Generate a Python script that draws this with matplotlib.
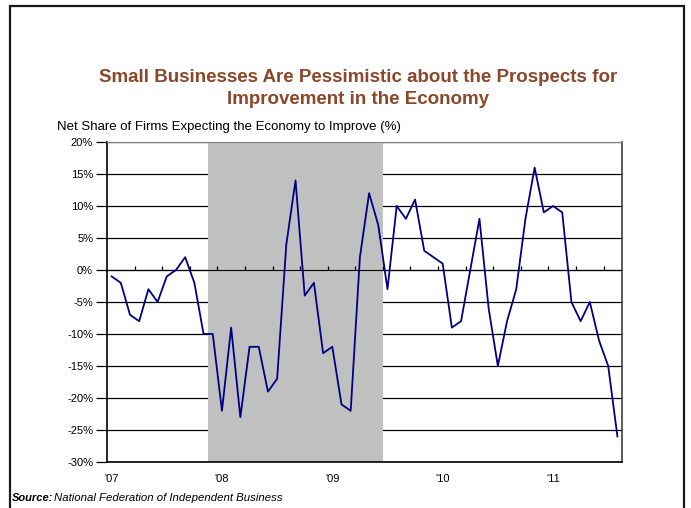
#!/usr/bin/env python3
# -*- coding: utf-8 -*-

import matplotlib
matplotlib.use('Agg')
import matplotlib.pyplot as plt
import matplotlib.patches as patches
import numpy as np

plt.rcParams['font.family'] = ['Liberation Sans', 'DejaVu Sans']

# Net share of firms expecting the economy to improve, monthly Jan 2007 - Aug 2011
net_share = [-1, -2, -7, -8, -3, -5, -1, 0, 2, -2, -10, -10,     # 2007
             -22, -9, -23, -12, -12, -19, -17, 4, 14, -4, -2, -13,  # 2008
             -12, -21, -22, 2, 12, 7, -3, 10, 8, 11, 3, 2,       # 2009
             1, -9, -8, 0, 8, -6, -15, -8, -3, 8, 16, 9,         # 2010
             10, 9, -5, -8, -5, -11, -15, -26]                   # 2011
year_labels = ["'07", "'08", "'09", "'10", "'11"]
year_starts = [0, 12, 24, 36, 48]
recession = (10.5, 29.5)   # Dec 2007 - Jun 2009
y_ticks = [20, 15, 10, 5, 0, -5, -10, -15, -20, -25, -30]

W, H = 691, 508
fig = plt.figure(figsize=(W / 100, H / 100), dpi=100)
ax = fig.add_axes([107 / W, 1 - 462 / H, (622 - 107) / W, (462 - 142) / H])

months = np.arange(len(net_share))

# gridlines under the recession band
for v in y_ticks:
    ax.axhline(v, color='black', lw=0.9, zorder=0.5)
ax.axvspan(recession[0], recession[1], color='#c0c0c0', lw=0, zorder=1)

ax.plot(months, net_share, color='#000080', lw=1.3, zorder=5)

ax.set_xlim(-0.5, len(net_share) - 0.5)
ax.set_ylim(-30, 20)
ax.set_yticks(y_ticks)
ax.set_yticklabels(['%d%%' % v for v in y_ticks], fontsize=8)
ax.tick_params(axis='y', direction='out', length=8, width=0.9, pad=2)

ax.set_xticks(year_starts)
ax.set_xticklabels(year_labels, fontsize=8)
ax.tick_params(axis='x', length=0, pad=9)

for side in ['left', 'bottom']:
    ax.spines[side].set_color('black')
    ax.spines[side].set_linewidth(1.2)
ax.spines['top'].set_color('#808080')
ax.spines['right'].set_color('#404040')
ax.spines['right'].set_linewidth(1.2)
for s in ax.spines.values():
    s.set_zorder(6)

# horizontal axis crossing at zero, quarterly tick marks
zero_ax = ax.secondary_xaxis(0.6)
zero_ax.set_xticks(np.arange(2.5, len(net_share), 3))
zero_ax.tick_params(axis='x', direction='out', length=3, width=0.9,
                    labelbottom=False, labeltop=False)
zero_ax.spines['bottom'].set_color('black')
zero_ax.spines['bottom'].set_linewidth(1.0)
zero_ax.set_zorder(4)

title_color = '#8b4828'
fig.text(358 / W, 1 - 77 / H,
         'Small Businesses Are Pessimistic about the Prospects for',
         ha='center', va='center', fontsize=13.5, fontweight='bold',
         color=title_color)
fig.text(358 / W, 1 - 100 / H, 'Improvement in the Economy',
         ha='center', va='center', fontsize=13.5, fontweight='bold',
         color=title_color)
fig.text(57 / W, 1 - 127 / H,
         'Net Share of Firms Expecting the Economy to Improve (%)',
         ha='left', va='center', fontsize=9.5)
fig.text(12 / W, 1 - 498 / H, 'Source:', ha='left', va='center',
         fontsize=8, fontstyle='italic', fontweight='bold')
fig.text(54 / W, 1 - 498 / H, 'National Federation of Independent Business',
         ha='left', va='center', fontsize=8.2, fontstyle='italic')

# outer frame of the chart
frame = patches.Rectangle((10 / W, -0.1), (684 - 10) / W, 1.1 - 6 / H,
                          transform=fig.transFigure, fill=False,
                          edgecolor='#1a1a1a', lw=1.6, clip_on=False)
fig.add_artist(frame)

plt.savefig('out.png', dpi=100)
